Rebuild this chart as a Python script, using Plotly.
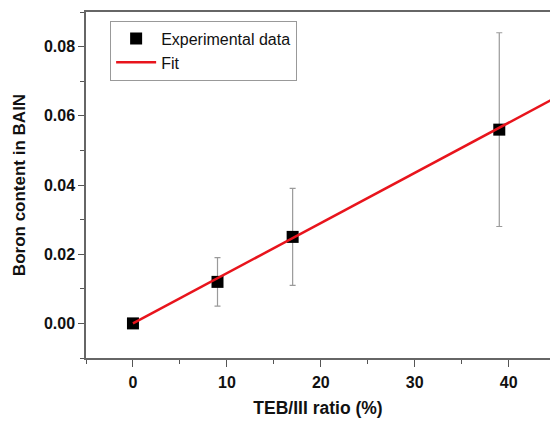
import plotly.graph_objects as go

# Data
teb_ratio = [0, 9, 17, 39]
boron_content = [0.0, 0.012, 0.025, 0.056]
boron_error = [0.0, 0.007, 0.014, 0.028]

fit_x = [0, 46]
fit_y = [0.0, 0.0667]

x_ticks = [0, 10, 20, 30, 40]
y_ticks = [0.00, 0.02, 0.04, 0.06, 0.08]
y_tick_labels = ["0.00", "0.02", "0.04", "0.06", "0.08"]

fig = go.Figure()

fig.add_trace(go.Scatter(
    x=teb_ratio, y=boron_content, mode="markers", name="Experimental data",
    marker=dict(symbol="square", size=12, color="black"),
    error_y=dict(type="data", array=boron_error, visible=True,
                 color="#9a9a9a", thickness=1.2, width=3),
))
fig.add_trace(go.Scatter(
    x=fit_x, y=fit_y, mode="lines", name="Fit",
    line=dict(color="#e8141c", width=2.5),
))

tick_font = dict(family="Liberation Sans, Arial", size=16, color="#111", weight="bold")

fig.update_layout(
    width=550, height=421,
    margin=dict(l=86, r=0, t=12, b=63),
    plot_bgcolor="white", paper_bgcolor="white",
    showlegend=True,
    legend=dict(
        x=0.052, y=0.975, xanchor="left", yanchor="top",
        bgcolor="white", bordercolor="#999", borderwidth=1,
        font=dict(family="Liberation Sans, Arial", size=16, color="#111"),
        tracegroupgap=0, itemwidth=40,
    ),
    xaxis=dict(
        range=[-5, 44.4], tickvals=x_ticks, ticks="outside", ticklen=7,
        tickcolor="#555", tickwidth=1.2, ticklabelstandoff=2,
        minor=dict(dtick=5, ticks="outside", ticklen=4, tickcolor="#555", tickwidth=1.2),
        showline=True, linecolor="#666", linewidth=1.5, mirror=True,
        showgrid=False, zeroline=False,
        tickfont=tick_font,
        title=dict(text="TEB/III ratio (%)",
                   font=dict(family="Liberation Sans, Arial", size=17.5, color="#111", weight="bold"),
                   standoff=12),
    ),
    yaxis=dict(
        range=[-0.01, 0.09], tickvals=y_ticks, ticktext=y_tick_labels,
        ticks="outside", ticklen=6, tickcolor="#555", tickwidth=1.2,
        minor=dict(dtick=0.01, tick0=0, ticks="outside", ticklen=4, tickcolor="#555", tickwidth=1.2),
        showline=True, linecolor="#666", linewidth=1.5,
        showgrid=False, zeroline=False,
        tickfont=tick_font,
        title=dict(text="Boron content in BAIN",
                   font=dict(family="Liberation Sans, Arial", size=17, color="#111", weight="bold"),
                   standoff=14),
    ),
)

fig.write_html("out.html")
